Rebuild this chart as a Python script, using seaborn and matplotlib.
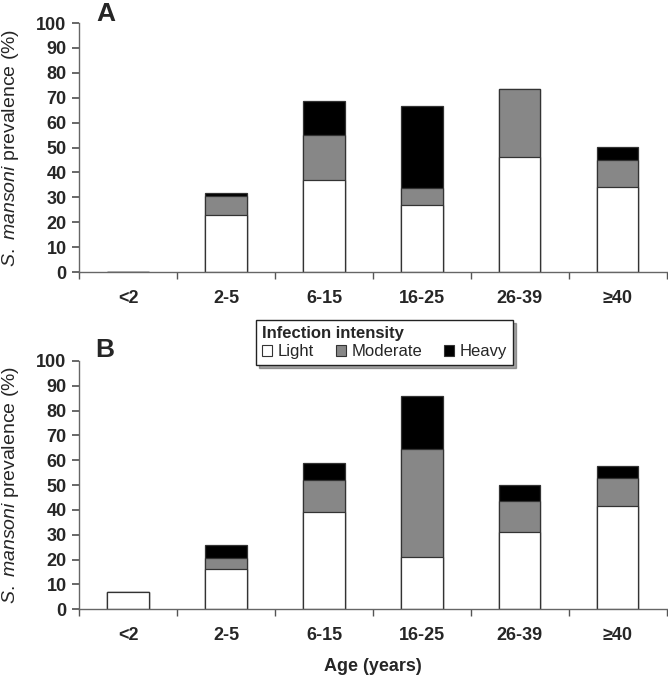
import numpy as np
import pandas as pd
import seaborn as sns
import matplotlib.pyplot as plt
from matplotlib.patches import Patch

# age groups and prevalence (%) by infection intensity
ages = ["<2", "2-5", "6-15", "16-25", "26-39", "\u226540"]

light_a = [0.0, 22.8, 36.8, 27.1, 46.4, 34.2]
moderate_a = [0.0, 7.7, 18.4, 6.5, 27.0, 10.9]
heavy_a = [0.0, 1.3, 13.6, 33.2, 0.0, 5.2]

light_b = [6.8, 16.1, 39.2, 21.2, 31.2, 41.5]
moderate_b = [0.0, 4.5, 12.8, 43.4, 12.5, 11.4]
heavy_b = [0.0, 5.3, 6.7, 21.2, 6.2, 4.7]

colors = {"Light": "white", "Moderate": "#878787", "Heavy": "black"}

sns.set_theme(style="ticks")
plt.rcParams['font.family'] = ['Liberation Sans', 'DejaVu Sans']
plt.rcParams['mathtext.fontset'] = 'custom'
plt.rcParams['mathtext.it'] = 'Liberation Sans:italic'
plt.rcParams['mathtext.rm'] = 'Liberation Sans'


def stacked(ax, light, moderate, heavy):
    df = pd.DataFrame({"age": ages, "Light": light, "Moderate": moderate, "Heavy": heavy})
    df["lm"] = df["Light"] + df["Moderate"]
    df["all"] = df["lm"] + df["Heavy"]
    # draw cumulative totals back to front
    for col, c in [("all", colors["Heavy"]), ("lm", colors["Moderate"]), ("Light", colors["Light"])]:
        sns.barplot(data=df, x="age", y=col, order=ages, color=c, saturation=1,
                    width=0.42, edgecolor="#333333", linewidth=0.9, ax=ax)
    ax.set_ylim(0, 100)
    ax.set_xlim(-0.5, 5.5)
    ax.set_yticks(np.arange(0, 101, 10))
    ax.set_xticks(range(len(ages)))
    ax.set_xticks(np.arange(-0.5, 6, 1), minor=True)
    ax.tick_params(axis="x", which="major", length=0, pad=13)
    ax.tick_params(axis="x", which="minor", length=5, color="#555555", direction="out")
    ax.tick_params(axis="y", length=5, color="#555555", pad=4)
    for lab in ax.get_xticklabels() + ax.get_yticklabels():
        lab.set_fontweight("bold")
        lab.set_fontsize(13)
    ax.set_xlabel("")
    ax.set_ylabel(r"$\mathit{S.\ mansoni}$ prevalence (%)", fontsize=14)
    ax.yaxis.set_label_coords(-0.099, 0.5)
    for s in ["top", "right"]:
        ax.spines[s].set_visible(False)
    for s in ["left", "bottom"]:
        ax.spines[s].set_color("#666666")
        ax.spines[s].set_linewidth(1.0)


fig = plt.figure(figsize=(6.68, 6.77), dpi=100)
ax1 = fig.add_axes([0.1183, 0.598, 0.880, 0.368])
ax2 = fig.add_axes([0.1183, 0.100, 0.880, 0.367])

stacked(ax1, light_a, moderate_a, heavy_a)
stacked(ax2, light_b, moderate_b, heavy_b)

fig.text(106 / 668, 1 - 21 / 677, "A", fontsize=19, fontweight="bold", ha="center", va="baseline")
fig.text(105 / 668, 1 - 357 / 677, "B", fontsize=19, fontweight="bold", ha="center", va="baseline")

ax2.set_xlabel("Age (years)", fontsize=13, fontweight="bold")
ax2.xaxis.set_label_coords(0.5, -0.195)

handles = [Patch(facecolor=colors[k], edgecolor="#333333", linewidth=0.8, label=k)
           for k in ["Light", "Moderate", "Heavy"]]
leg = fig.legend(handles=handles, title="Infection intensity", ncol=3,
                 loc="upper left", bbox_to_anchor=(256 / 668, 1 - 320 / 677),
                 fontsize=12, title_fontproperties={"weight": "bold", "size": 12},
                 frameon=True, fancybox=False, shadow=True, edgecolor="#222222",
                 handlelength=0.6, handleheight=0.6, handletextpad=0.35,
                 columnspacing=1.3, borderpad=0.35, labelspacing=0.2,
                 alignment="left", borderaxespad=0)
leg.get_frame().set_linewidth(1.0)

fig.savefig("out.png", dpi=100, facecolor="white")
